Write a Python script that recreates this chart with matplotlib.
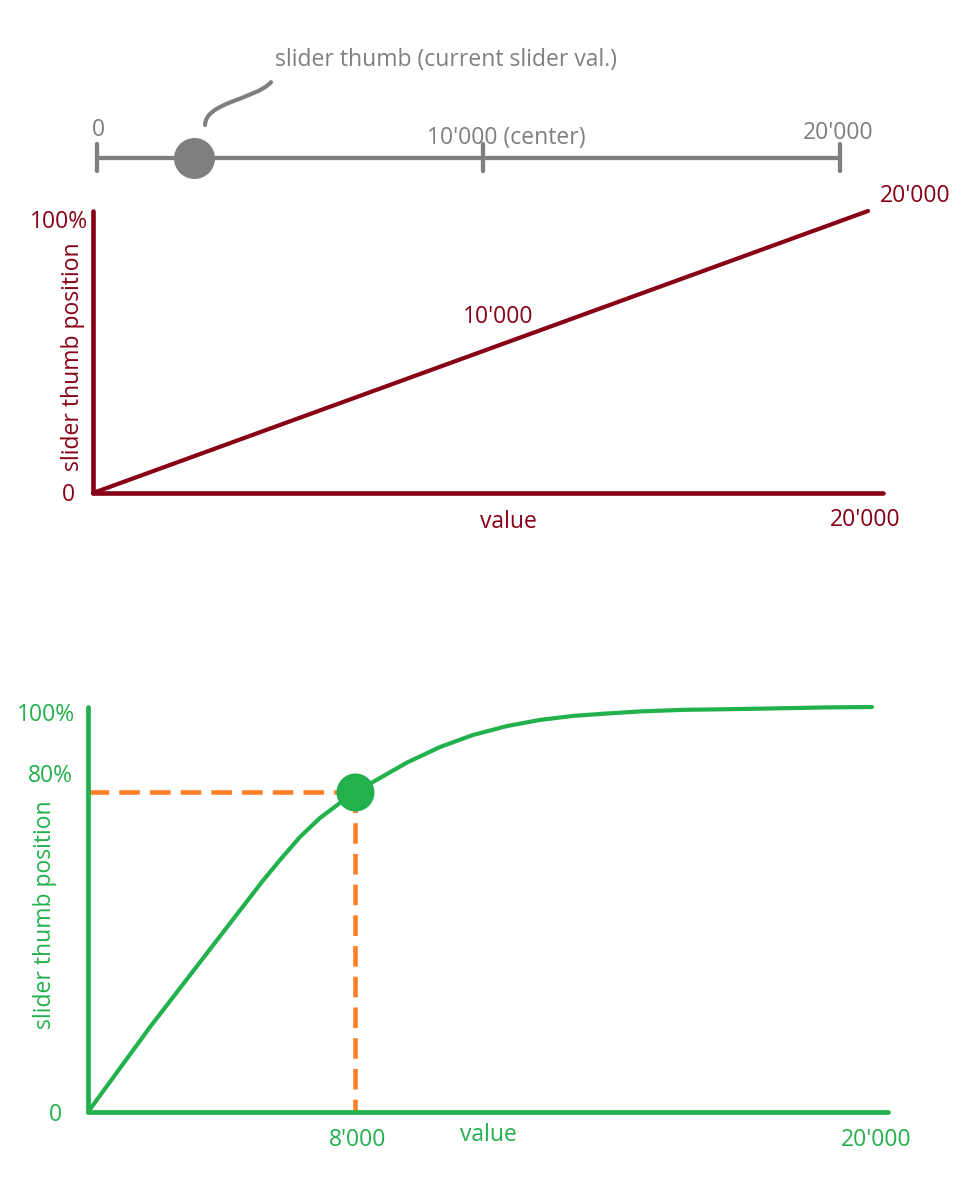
import numpy as np
import matplotlib
matplotlib.use("Agg")
import matplotlib.pyplot as plt
from matplotlib.patches import ConnectionStyle
from matplotlib.path import Path

plt.rcParams['font.family'] = ['Open Sans', 'DejaVu Sans']

W, H = 978, 1196
GREY = '#7f7f7f'
RED = '#880015'
GREEN = '#22b14c'
ORANGE = '#ff7f27'
FS = 16.5

# slider on top
slider_ticks = [0, 10000, 20000]
slider_labels = ["0", "10'000 (center)", "20'000"]
slider_val = 2500

# linear mapping value -> thumb position (%)
lin_x = [0, 20000]
lin_y = [0, 100]

# non linear mapping value -> thumb position (%)
curve_x = [0, 1860, 3750, 5210, 5750, 6350, 6950, 7550, 8000, 8420, 9210,
           9970, 10740, 11530, 12290, 13060, 13850, 14620, 15610, 16310,
           17470, 18950, 20000]
curve_y = [0, 21.0, 41.2, 56.8, 62.2, 67.9, 72.6, 76.3, 79, 81.5, 86.3,
           90.1, 93.1, 95.3, 96.8, 97.8, 98.4, 98.9, 99.3, 99.4,
           99.6, 99.9, 100]
thumb_x = 8000
thumb_y = 79


def rect(l, t, r, b):
    return [l / W, 1 - b / H, (r - l) / W, (b - t) / H]


def sketch_scale(vals, pix):
    # the sketch is not to scale -> piecewise linear value->pixel
    vals = np.asarray(vals, float)
    pix = np.asarray(pix, float)
    s0 = (pix[1] - pix[0]) / (vals[1] - vals[0])
    s1 = (pix[-1] - pix[-2]) / (vals[-1] - vals[-2])
    v = np.r_[vals[0] - 1e5, vals, vals[-1] + 1e5]
    p = np.r_[pix[0] - 1e5 * s0, pix, pix[-1] + 1e5 * s1]
    fwd = lambda x: np.interp(x, v, p)
    inv = lambda y: np.interp(y, p, v)
    return fwd, inv


class SCurve(ConnectionStyle._Base):
    # s-shaped squiggle between text and thumb
    def connect(self, posA, posB):
        (x1, y1), (x2, y2) = posA, posB
        ym = (y1 + y2) / 2
        return Path([(x1, y1), (x1, ym), (x2, ym), (x2, y2)],
                    [Path.MOVETO, Path.CURVE4, Path.CURVE4, Path.CURVE4])


def label(ax, txt, xy, off, color, ha='center', xycoords='data', **kw):
    ax.annotate(txt, xy=xy, xycoords=xycoords, xytext=off,
                textcoords='offset pixels', ha=ha, va='center',
                color=color, fontsize=FS, annotation_clip=False, **kw)


fig = plt.figure(figsize=(W / 100, H / 100), dpi=100)

# ---- slider ----
ax = fig.add_axes(rect(97, 138, 840, 178))
fwd, inv = sketch_scale(slider_ticks, [97, 483, 840])
ax.set_xscale('function', functions=(fwd, inv))
ax.set_xlim(0, 20000)
ax.set_ylim(-1, 1)
ax.axis('off')
ax.plot([slider_ticks[0], slider_ticks[-1]], [0, 0], color=GREY, lw=3.1,
        solid_capstyle='butt', clip_on=False)
vl = ax.vlines(slider_ticks, -0.65, 0.7, color=GREY, lw=3.1, clip_on=False)
vl.set_capstyle('round')
ax.scatter([slider_val], [0], s=870, color=GREY, zorder=3, clip_on=False,
           linewidths=0)
offs = [(1, 28), (-56, 20), (-2, 25)]
has = ['center', 'left', 'center']
for t, lab, o, h in zip(slider_ticks, slider_labels, offs, has):
    label(ax, lab, (t, 0), o, GREY, ha=h)
label(ax, "slider thumb (current slider val.)", (2800, 1.65), (70, 65), GREY,
      ha='left',
      arrowprops=dict(arrowstyle='-', color=GREY, lw=3, relpos=(0, 0),
                      shrinkA=6, shrinkB=0, capstyle='round',
                      connectionstyle=SCurve()))

# ---- linear chart ----
ax = fig.add_axes(rect(93, 211, 883, 493))
ax.set_xlim(0, 20000 * 790 / 775)
ax.set_ylim(0, 100)
ax.patch.set_visible(False)
ax.set_xticks([])
ax.set_yticks([])
for s in ['top', 'right']:
    ax.spines[s].set_visible(False)
for s in ['left', 'bottom']:
    ax.spines[s].set_color(RED)
    ax.spines[s].set_linewidth(3.3)
    ax.spines[s].set_capstyle('round')
ax.plot(lin_x, lin_y, color=RED, lw=3, solid_capstyle='round', clip_on=False)
label(ax, "100%", (0, 100), (-5, -11), RED, ha='right')
label(ax, "0", (0, 0), (-25, -2), RED)
label(ax, "value", (10000, 0), (28, -29), RED)
label(ax, "20'000", (20000, 0), (-3, -27), RED)
label(ax, "10'000", (10000, 50), (18, 35), RED)
label(ax, "20'000", (20000, 100), (47, 15), RED)
label(ax, "slider thumb position", (0, 0.5), (-20, -5), RED,
      xycoords='axes fraction', rotation=90)

# ---- non linear chart ----
ax = fig.add_axes(rect(88, 707, 888, 1112))
fwd, inv = sketch_scale([0, 8000, 20000], [88, 355, 872])
ax.set_xscale('function', functions=(fwd, inv))
ax.set_xlim(0, float(inv(888)))
ax.set_ylim(0, 100)
ax.patch.set_visible(False)
ax.set_xticks([])
ax.set_yticks([])
ax.minorticks_off()
for s in ['top', 'right']:
    ax.spines[s].set_visible(False)
for s in ['left', 'bottom']:
    ax.spines[s].set_color(GREEN)
    ax.spines[s].set_linewidth(3.4)
    ax.spines[s].set_capstyle('round')
ax.plot(curve_x, curve_y, color=GREEN, lw=3, solid_capstyle='round',
        solid_joinstyle='round', clip_on=False, zorder=3)
ax.plot([0, thumb_x], [thumb_y, thumb_y], color=ORANGE, lw=3.3,
        dashes=(4.5, 2.2), clip_on=False, zorder=2)
ax.plot([thumb_x, thumb_x], [thumb_y, 0], color=ORANGE, lw=3.3,
        dashes=(4.5, 2.2), clip_on=False, zorder=2)
ax.scatter([thumb_x], [thumb_y], s=750, color=GREEN, zorder=4, clip_on=False,
           linewidths=0)
label(ax, "100%", (0, 100), (-13, -8), GREEN, ha='right')
label(ax, "80%", (0, thumb_y), (-15, 16), GREEN, ha='right')
label(ax, "0", (0, 0), (-33, -3), GREEN)
label(ax, "8'000", (thumb_x, 0), (3, -28), GREEN)
label(ax, "value", (0.5, 0), (0, -23), GREEN, xycoords='axes fraction')
label(ax, "20'000", (20000, 0), (4, -28), GREEN)
label(ax, "slider thumb position", (0, 0.5), (-43, -5), GREEN,
      xycoords='axes fraction', rotation=90)

fig.savefig('out.png', dpi=100)
